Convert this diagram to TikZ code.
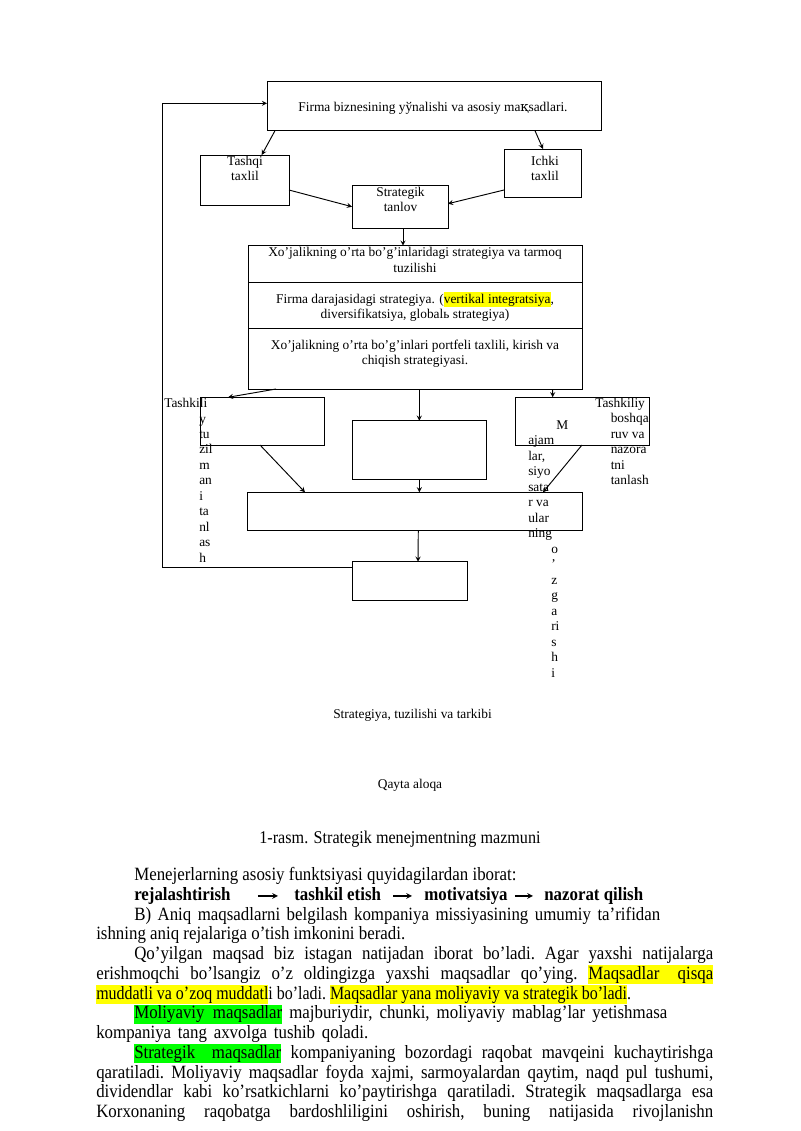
\documentclass[tikz,border=0pt]{standalone}
\usepackage{fontspec}
\usepackage{xcolor}
\usepackage{graphicx}
\usepackage{tikz}
\usetikzlibrary{arrows,calc,positioning}
\newfontfamily\diagfont{Liberation Serif}
\newfontfamily\bodyfont[FakeStretch=0.9]{Liberation Serif}
\newfontfamily\dvfont{DejaVu Serif}
\newlength{\pxu}
\setlength{\pxu}{0.2625mm}
\definecolor{hlyellow}{HTML}{FFFF00}
\definecolor{hlgreen}{HTML}{00FF00}
\newcommand{\hly}[1]{{\fboxsep=0pt\colorbox{hlyellow}{\rule[-2.6pt]{0pt}{11pt}#1}}}
\newcommand{\bhly}[1]{{\fboxsep=0pt\colorbox{hlyellow}{\rule[-3.6pt]{0pt}{14pt}#1}}}
\newcommand{\bhlg}[1]{{\fboxsep=0pt\colorbox{hlgreen}{\rule[-3.6pt]{0pt}{14pt}#1}}}
\tikzstyle{box}  =[draw, line width=0.7pt, inner sep=0pt, outer sep=0pt,
                   anchor=north west]
\tikzstyle{link} =[->, >=stealth, line width=0.7pt]
\tikzstyle{txt}  =[inner sep=0pt, anchor=base, align=center,
                   font=\diagfont\fontsize{10}{11.53}\selectfont]
\tikzstyle{col}  =[txt, anchor=base west, align=left]
\tikzstyle{body} =[inner sep=0pt, anchor=base west,
                   font=\bodyfont\fontsize{14}{14.7}\selectfont\frenchspacing]
\tikzstyle{flow} =[link, line width=0.9pt]

\begin{document}
\begin{tikzpicture}[x=0.2625mm, y=-0.2625mm]
    \fill[white] (0,0) rectangle (800,1131);
    \useasboundingbox (0,0) rectangle (800,1131);
    \begin{scope}
        % blocks
        \node[box, minimum width=334\pxu, minimum height=49\pxu] (top) at (267,81.7) {};
        \node[box, minimum width=88.3\pxu, minimum height=50\pxu] (tq) at (200.7,155) {};
        \node[box, minimum width=77\pxu, minimum height=48.7\pxu] (ic) at (504,149) {};
        \node[box, minimum width=96\pxu, minimum height=42.3\pxu] (st) at (352,185.7) {};
        \node[box, minimum width=334.3\pxu, minimum height=37\pxu] (ra) at (248,245.7) {};
        \node[box, minimum width=334.3\pxu, minimum height=45.6\pxu] (rb) at (248,282.7) {};
        \node[box, minimum width=334.3\pxu, minimum height=60.7\pxu] (rc) at (248,328.3) {};
        \node[box, minimum width=124\pxu, minimum height=47.7\pxu] (ml) at (200,397.3) {};
        \node[box, minimum width=134.7\pxu, minimum height=58.3\pxu] (mc) at (352,420.7) {};
        \node[box, minimum width=134\pxu, minimum height=47.7\pxu] (mr) at (515,397.3) {};
        \node[box, minimum width=335\pxu, minimum height=38\pxu] (wd) at (247.3,492.3) {};
        \node[box, minimum width=115\pxu, minimum height=39\pxu] (bt) at (352,561.7) {};
        % texts in blocks (base = last line)
        \node[txt] (ttop) at (433,111) {Firma biznesining yўnalishi va asosiy ma{\dvfont қ}sadlari.};
        \node[txt] (ttq) at (245,180.5) {Tashqi\\taxlil};
        \node[txt] (tic) at (545,180.5) {Ichki\\taxlil};
        \node[txt] (tst) at (400.5,211.5) {Strategik\\tanlov};
        \node[txt] (tra) at (415,272) {Xo’jalikning o’rta bo’g’inlaridagi strategiya va tarmoq\\tuzilishi};
        \node[txt] (trb) at (415,318.5) {Firma darajasidagi strategiya. (\hly{vertikal integratsiya},\\diversifikatsiya, globalь strategiya)};
        \node[txt] (trc) at (415,364.5) {Xo’jalikning o’rta bo’g’inlari portfeli taxlili, kirish va\\chiqish strategiyasi.};
        % side labels
        \node[col] (la) at (164,407) {Tashkili};
        \node[col] (lb) at (199,562) {y\\tu\\zil\\m\\an\\i\\ta\\nl\\as\\h};
        \node[col] (ma) at (556,429.5) {M};
        \node[col] (mb) at (528,537.5) {ajam\\lar,\\siyo\\sata\\r va\\ular\\ning};
        \node[col] (mcx) at (551,677) {o\\’\\z\\g\\a\\ri\\s\\h\\i};
        \node[col] (ra1) at (595,407) {Tashkiliy};
        \node[col] (rb1) at (610.5,484.5) {boshqa\\ruv va\\nazora\\tni\\tanlash};
        % connectors
        \draw[link] ($(top.south west)+(8,0)$) -- ($(tq.north west)+(61,0)$);
        \draw[link] ($(top.south east)+(-66,0)$) -- ($(ic.north west)+(39,0)$);
        \draw[link] ($(tq.north east)+(0,35)$) -- ($(st.north west)+(0,21)$);
        \draw[link] ($(ic.north west)+(0,41)$) -- ($(st.north east)+(0,18)$);
        \draw[link] ($(st.south)+(3,0)$) coordinate (s5) -- (s5 |- ra.north);
        \draw[link] ($(rc.south west)+(28,0)$) -- ($(ml.north west)+(28,0)$);
        \draw[link] (mc.north |- rc.south) -- (mc.north);
        \draw[link] ($(rc.south east)+(-29.6,0)$) -- ($(mr.north west)+(37.7,0)$);
        \draw[link] ($(ml.south west)+(60,0)$) -- ($(wd.north west)+(57.7,0)$);
        \draw[link] (mc.south) -- (mc.south |- wd.north);
        \draw[link] ($(mr.south west)+(67,0)$) -- ($(wd.north east)+(-39.3,0)$);
        \draw[link] ($(wd.south west)+(171,0)$) -- ($(bt.north west)+(66,0)$);
        \coordinate (fb) at (162,103.3);
        \draw[link] ($(bt.north west)+(0,6)$) -| (fb) -- (top.west |- fb);
        % captions
        \node[txt] (c1) at (412.5,718) {Strategiya, tuzilishi va tarkibi};
        \node[txt] (c2) at (410,788) {Qayta aloqa};
        \node[body, anchor=base, font=\bodyfont\fontsize{13.4}{14}\selectfont] (c3) at (400,843)
            {1-rasm. Strategik menejmentning mazmuni};
    \end{scope}
    \begin{scope}
        % page text
        \node[body] (l1) at (134,880.5) {Menejerlarning asosiy funktsiyasi quyidagilardan iborat:};
        \node[body] (w1) at (134,900.25) {\textbf{rejalashtirish}};
        \node[body] (w2) at (294,900.25) {\textbf{tashkil etish}};
        \node[body] (w3) at (424,900.25) {\textbf{motivatsiya}};
        \node[body] (w4) at (544,900.25) {\textbf{nazorat qilish}};
        \draw[flow, shorten <=27\pxu, shorten >=16\pxu] ([yshift=4.3\pxu]w1.base east) -- ([yshift=4.3\pxu]w2.base west);
        \draw[flow, shorten <=12\pxu, shorten >=12\pxu] ([yshift=4.3\pxu]w2.base east) -- ([yshift=4.3\pxu]w3.base west);
        \draw[flow, shorten <=7\pxu, shorten >=11\pxu] ([yshift=4.3\pxu]w3.base east) -- ([yshift=4.3\pxu]w4.base west);
        \node[body] (l3) at (134,920) {\makebox[526\pxu][s]{B) Aniq maqsadlarni belgilash kompaniya missiyasining umumiy ta’rifidan}};
        \node[body] (l4) at (96,939.75) {ishning aniq rejalariga o’tish imkonini beradi.};
        \node[body] (l5) at (134,959.5) {\makebox[579\pxu][s]{Qo’yilgan maqsad biz istagan natijadan iborat bo’ladi. Agar yaxshi natijalarga}};
        \node[body] (l6) at (96,979.25) {\makebox[617\pxu][s]{erishmoqchi bo’lsangiz o’z oldingizga yaxshi maqsadlar qo’ying. \bhly{\makebox[125\pxu][s]{Maqsadlar qisqa}}}};
        \node[body] (l7) at (96,999) {\scalebox{0.945}[1]{\bhly{muddatli va o’zoq muddatl}i bo’ladi. \bhly{Maqsadlar yana moliyaviy va strategik bo’ladi}.}};
        \node[body] (l8) at (134,1018.75) {\makebox[533\pxu][s]{\bhlg{\makebox[148\pxu][s]{Moliyaviy maqsadlar}} majburiydir, chunki, moliyaviy mablag’lar yetishmasa}};
        \node[body] (l9) at (96,1038.5) {\makebox[272\pxu][s]{kompaniya tang axvolga tushib qoladi.}};
        \node[body] (l10) at (134,1058.25) {\makebox[579\pxu][s]{\bhlg{\makebox[147\pxu][s]{Strategik maqsadlar}} kompaniyaning bozordagi raqobat mavqeini kuchaytirishga}};
        \node[body] (l11) at (96,1078) {\makebox[617\pxu][s]{qaratiladi. Moliyaviy maqsadlar foyda xajmi, sarmoyalardan qaytim, naqd pul tushumi,}};
        \node[body] (l12) at (96,1097.75) {\makebox[617\pxu][s]{dividendlar kabi ko’rsatkichlarni ko’paytirishga qaratiladi. Strategik maqsadlarga esa}};
        \node[body] (l13) at (96,1117.5) {\makebox[617\pxu][s]{Korxonaning raqobatga bardoshliligini oshirish, buning natijasida rivojlanishn}};
    \end{scope}
\end{tikzpicture}
\end{document}
